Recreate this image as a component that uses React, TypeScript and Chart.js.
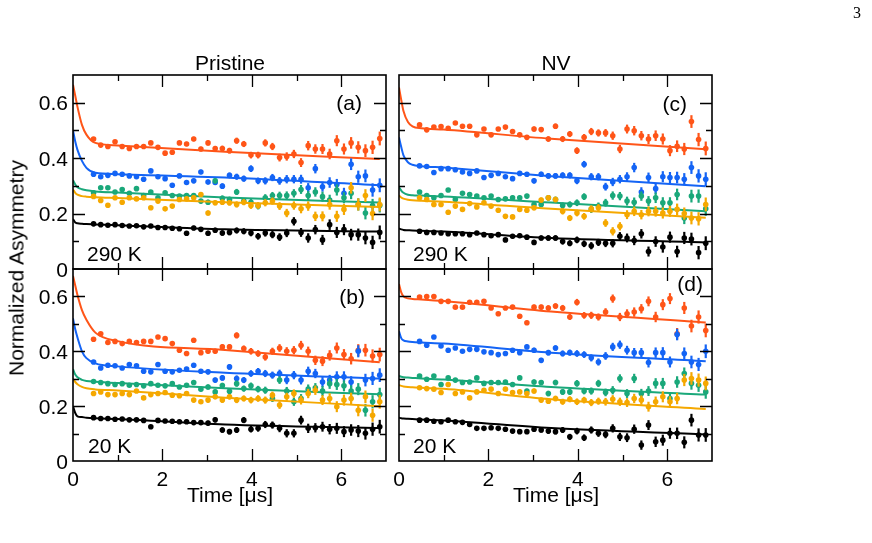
import React, { useEffect, useRef } from "react";
import { Chart, registerables } from "chart.js";
Chart.register(...registerables);

// ---------- data ----------
const TIMES = [0.46, 0.62, 0.78, 0.94, 1.1, 1.26, 1.42, 1.58, 1.74, 1.9, 2.06, 2.22, 2.38, 2.54, 2.7, 2.86, 3.02, 3.18, 3.34, 3.5, 3.66, 3.82, 3.98, 4.14, 4.3, 4.46, 4.62, 4.78, 4.94, 5.1, 5.26, 5.42, 5.58, 5.74, 5.9, 6.06, 6.22, 6.38, 6.54, 6.7, 6.86];
const ERRORS = [0.004, 0.004, 0.005, 0.005, 0.005, 0.005, 0.006, 0.006, 0.006, 0.006, 0.007, 0.007, 0.007, 0.008, 0.008, 0.008, 0.009, 0.009, 0.01, 0.01, 0.011, 0.011, 0.012, 0.012, 0.013, 0.013, 0.014, 0.015, 0.015, 0.016, 0.017, 0.017, 0.018, 0.019, 0.02, 0.02, 0.021, 0.022, 0.023, 0.024, 0.025];
const FIT_T = [0, 0.05, 0.1, 0.2, 0.3, 0.5, 1.0, 3.4, 6.86];

const X_TICK_LABELS = ["0", "2", "4", "6"];
const X_TICK_VALUES = [0, 2, 4, 6];
const Y_TICK_LABELS = ["0", "0.2", "0.4", "0.6"];
const Y_TICK_VALUES = [0, 0.2, 0.4, 0.6];
const X_TICKS_ALL = [1, 2, 3, 4, 5, 6];
const Y_TICKS_ALL = [0.1, 0.2, 0.3, 0.4, 0.5, 0.6];

// (a) Pristine 290 K
const A_RED = [0.469, 0.447, 0.442, 0.459, 0.442, 0.435, 0.442, 0.442, 0.455, 0.439, 0.418, 0.421, 0.455, 0.451, 0.469, 0.433, 0.455, 0.435, 0.435, 0.427, 0.463, 0.451, 0.411, 0.411, 0.455, 0.442, 0.402, 0.406, 0.415, 0.384, 0.445, 0.433, 0.433, 0.415, 0.463, 0.433, 0.455, 0.439, 0.427, 0.439, 0.471];
const A_BLUE = [0.342, 0.333, 0.338, 0.345, 0.342, 0.336, 0.333, 0.324, 0.354, 0.333, 0.326, 0.302, 0.336, 0.312, 0.318, 0.35, 0.314, 0.312, 0.299, 0.338, 0.333, 0.326, 0.362, 0.318, 0.318, 0.33, 0.318, 0.324, 0.324, 0.324, 0.293, 0.362, 0.297, 0.312, 0.305, 0.273, 0.378, 0.333, 0.336, 0.285, 0.302];
const A_GREEN = [0.275, 0.293, 0.293, 0.278, 0.287, 0.273, 0.29, 0.265, 0.278, 0.257, 0.275, 0.265, 0.263, 0.265, 0.265, 0.245, 0.241, 0.318, 0.255, 0.251, 0.278, 0.245, 0.241, 0.227, 0.257, 0.265, 0.265, 0.265, 0.273, 0.287, 0.265, 0.278, 0.261, 0.249, 0.285, 0.257, 0.273, 0.233, 0.202, 0.229, 0.229];
const A_YELLOW = [0.262, 0.247, 0.23, 0.257, 0.241, 0.257, 0.253, 0.257, 0.221, 0.245, 0.217, 0.227, 0.251, 0.253, 0.257, 0.269, 0.202, 0.239, 0.241, 0.239, 0.233, 0.241, 0.229, 0.229, 0.239, 0.245, 0.227, 0.202, 0.229, 0.217, 0.227, 0.19, 0.19, 0.233, 0.19, 0.215, 0.293, 0.233, 0.265, 0.2, 0.233];
const A_BLACK = [0.163, 0.16, 0.158, 0.16, 0.157, 0.155, 0.156, 0.152, 0.155, 0.15, 0.15, 0.147, 0.145, 0.129, 0.148, 0.143, 0.129, 0.14, 0.13, 0.132, 0.139, 0.136, 0.13, 0.118, 0.13, 0.124, 0.115, 0.13, 0.172, 0.132, 0.112, 0.142, 0.105, 0.16, 0.132, 0.142, 0.124, 0.124, 0.112, 0.096, 0.132];
const A_FIT_RED = [0.665, 0.625, 0.585, 0.52, 0.485, 0.455, 0.446, 0.423, 0.397];
const A_FIT_BLUE = [0.5, 0.46, 0.43, 0.39, 0.365, 0.347, 0.342, 0.33, 0.302];
const A_FIT_GREEN = [0.32, 0.305, 0.295, 0.288, 0.284, 0.28, 0.276, 0.258, 0.24];
const A_FIT_YELLOW = [0.287, 0.275, 0.268, 0.263, 0.261, 0.259, 0.256, 0.241, 0.224];
const A_FIT_BLACK = [0.18, 0.168, 0.165, 0.163, 0.162, 0.161, 0.158, 0.143, 0.135];

// (b) Pristine 20 K
const B_RED = [0.444, 0.464, 0.432, 0.436, 0.428, 0.436, 0.432, 0.436, 0.436, 0.452, 0.446, 0.428, 0.404, 0.392, 0.44, 0.395, 0.4, 0.4, 0.416, 0.416, 0.458, 0.41, 0.4, 0.392, 0.379, 0.4, 0.412, 0.4, 0.404, 0.422, 0.4, 0.367, 0.364, 0.385, 0.412, 0.388, 0.373, 0.404, 0.404, 0.383, 0.388];
const B_BLUE = [0.361, 0.339, 0.349, 0.347, 0.339, 0.352, 0.347, 0.327, 0.325, 0.352, 0.327, 0.325, 0.331, 0.335, 0.349, 0.327, 0.325, 0.295, 0.303, 0.343, 0.301, 0.295, 0.319, 0.327, 0.319, 0.313, 0.319, 0.295, 0.313, 0.295, 0.327, 0.319, 0.288, 0.295, 0.307, 0.307, 0.288, 0.4, 0.295, 0.301, 0.313];
const B_GREEN = [0.29, 0.286, 0.282, 0.279, 0.282, 0.276, 0.279, 0.274, 0.282, 0.276, 0.274, 0.282, 0.27, 0.276, 0.286, 0.262, 0.27, 0.252, 0.275, 0.254, 0.282, 0.264, 0.274, 0.262, 0.258, 0.228, 0.295, 0.255, 0.216, 0.228, 0.262, 0.267, 0.255, 0.282, 0.279, 0.274, 0.255, 0.262, 0.185, 0.216, 0.242];
const B_YELLOW = [0.246, 0.252, 0.242, 0.242, 0.246, 0.242, 0.255, 0.23, 0.242, 0.246, 0.25, 0.24, 0.238, 0.246, 0.222, 0.216, 0.222, 0.234, 0.222, 0.234, 0.222, 0.228, 0.222, 0.228, 0.222, 0.24, 0.204, 0.234, 0.246, 0.222, 0.246, 0.258, 0.222, 0.228, 0.198, 0.222, 0.228, 0.185, 0.234, 0.167, 0.216];
const B_BLACK = [0.158, 0.155, 0.155, 0.152, 0.153, 0.15, 0.15, 0.148, 0.125, 0.148, 0.146, 0.145, 0.143, 0.143, 0.14, 0.14, 0.138, 0.15, 0.113, 0.107, 0.113, 0.149, 0.116, 0.119, 0.133, 0.131, 0.119, 0.101, 0.101, 0.149, 0.119, 0.121, 0.125, 0.116, 0.119, 0.107, 0.113, 0.109, 0.101, 0.116, 0.125];
const B_FIT_RED = [0.675, 0.64, 0.605, 0.55, 0.515, 0.468, 0.437, 0.405, 0.36];
const B_FIT_BLUE = [0.52, 0.48, 0.45, 0.4, 0.375, 0.356, 0.345, 0.322, 0.301];
const B_FIT_GREEN = [0.335, 0.315, 0.305, 0.296, 0.292, 0.289, 0.284, 0.265, 0.243];
const B_FIT_YELLOW = [0.3, 0.288, 0.28, 0.27, 0.265, 0.261, 0.257, 0.231, 0.2];
const B_FIT_BLACK = [0.2, 0.175, 0.163, 0.16, 0.158, 0.156, 0.153, 0.133, 0.12];

// (c) NV 290 K
const C_RED = [0.52, 0.502, 0.512, 0.514, 0.508, 0.527, 0.515, 0.515, 0.484, 0.505, 0.484, 0.505, 0.512, 0.496, 0.484, 0.475, 0.505, 0.503, 0.469, 0.515, 0.469, 0.487, 0.427, 0.475, 0.496, 0.491, 0.491, 0.481, 0.433, 0.505, 0.499, 0.481, 0.469, 0.481, 0.469, 0.427, 0.443, 0.433, 0.532, 0.467, 0.435];
const C_BLUE = [0.372, 0.37, 0.348, 0.362, 0.362, 0.358, 0.35, 0.345, 0.354, 0.33, 0.338, 0.345, 0.333, 0.326, 0.345, 0.342, 0.318, 0.342, 0.336, 0.336, 0.338, 0.338, 0.318, 0.378, 0.333, 0.333, 0.297, 0.314, 0.324, 0.333, 0.366, 0.278, 0.33, 0.29, 0.333, 0.33, 0.33, 0.324, 0.366, 0.336, 0.324];
const C_GREEN = [0.278, 0.265, 0.257, 0.265, 0.285, 0.251, 0.273, 0.269, 0.263, 0.257, 0.263, 0.251, 0.253, 0.257, 0.257, 0.263, 0.233, 0.233, 0.257, 0.251, 0.229, 0.233, 0.239, 0.261, 0.215, 0.227, 0.239, 0.265, 0.263, 0.245, 0.241, 0.263, 0.245, 0.257, 0.239, 0.239, 0.269, 0.184, 0.263, 0.263, 0.217];
const C_YELLOW = [0.257, 0.251, 0.233, 0.233, 0.205, 0.227, 0.215, 0.236, 0.224, 0.239, 0.227, 0.212, 0.19, 0.188, 0.215, 0.212, 0.221, 0.249, 0.257, 0.251, 0.208, 0.184, 0.202, 0.19, 0.217, 0.221, 0.166, 0.136, 0.154, 0.196, 0.208, 0.196, 0.208, 0.208, 0.202, 0.208, 0.215, 0.2, 0.184, 0.181, 0.233];
const C_BLACK = [0.136, 0.132, 0.132, 0.13, 0.127, 0.127, 0.127, 0.124, 0.13, 0.124, 0.12, 0.124, 0.105, 0.118, 0.12, 0.115, 0.096, 0.112, 0.112, 0.112, 0.099, 0.093, 0.105, 0.091, 0.084, 0.096, 0.093, 0.093, 0.118, 0.112, 0.103, 0.127, 0.063, 0.099, 0.079, 0.115, 0.063, 0.112, 0.108, 0.059, 0.093];
const C_FIT_RED = [0.655, 0.61, 0.57, 0.53, 0.515, 0.508, 0.503, 0.47, 0.432];
const C_FIT_BLUE = [0.475, 0.44, 0.41, 0.385, 0.376, 0.371, 0.366, 0.335, 0.299];
const C_FIT_GREEN = [0.295, 0.283, 0.275, 0.268, 0.266, 0.265, 0.262, 0.24, 0.208];
const C_FIT_YELLOW = [0.265, 0.258, 0.254, 0.25, 0.248, 0.246, 0.243, 0.217, 0.185];
const C_FIT_BLACK = [0.146, 0.143, 0.141, 0.14, 0.139, 0.138, 0.135, 0.112, 0.096];

// (d) NV 20 K
const D_RED = [0.598, 0.6, 0.6, 0.582, 0.582, 0.561, 0.561, 0.579, 0.579, 0.582, 0.558, 0.537, 0.558, 0.561, 0.528, 0.504, 0.561, 0.561, 0.558, 0.565, 0.558, 0.525, 0.579, 0.531, 0.531, 0.525, 0.543, 0.592, 0.525, 0.537, 0.543, 0.555, 0.582, 0.525, 0.57, 0.592, 0.464, 0.558, 0.492, 0.525, 0.476];
const D_BLUE = [0.436, 0.422, 0.452, 0.419, 0.404, 0.412, 0.4, 0.407, 0.407, 0.398, 0.395, 0.388, 0.392, 0.404, 0.395, 0.416, 0.404, 0.367, 0.395, 0.412, 0.392, 0.395, 0.392, 0.388, 0.376, 0.361, 0.383, 0.416, 0.424, 0.404, 0.395, 0.395, 0.359, 0.395, 0.395, 0.361, 0.461, 0.392, 0.361, 0.352, 0.4];
const D_GREEN = [0.31, 0.298, 0.31, 0.279, 0.303, 0.295, 0.286, 0.288, 0.303, 0.283, 0.286, 0.286, 0.288, 0.279, 0.303, 0.255, 0.288, 0.286, 0.246, 0.286, 0.252, 0.252, 0.283, 0.255, 0.255, 0.283, 0.25, 0.258, 0.301, 0.246, 0.301, 0.246, 0.255, 0.283, 0.283, 0.228, 0.288, 0.319, 0.283, 0.276, 0.252];
const D_YELLOW = [0.267, 0.264, 0.262, 0.25, 0.279, 0.246, 0.252, 0.23, 0.252, 0.258, 0.262, 0.246, 0.262, 0.25, 0.252, 0.246, 0.255, 0.222, 0.218, 0.228, 0.216, 0.225, 0.216, 0.222, 0.213, 0.218, 0.216, 0.225, 0.216, 0.213, 0.228, 0.222, 0.198, 0.216, 0.234, 0.216, 0.228, 0.295, 0.301, 0.295, 0.283];
const D_BLACK = [0.149, 0.149, 0.145, 0.143, 0.149, 0.143, 0.141, 0.133, 0.119, 0.119, 0.121, 0.119, 0.116, 0.109, 0.107, 0.107, 0.116, 0.113, 0.109, 0.107, 0.113, 0.088, 0.109, 0.085, 0.113, 0.101, 0.097, 0.119, 0.088, 0.085, 0.116, 0.058, 0.131, 0.07, 0.076, 0.101, 0.101, 0.068, 0.149, 0.095, 0.095];
const D_FIT_RED = [0.645, 0.615, 0.6, 0.593, 0.591, 0.589, 0.583, 0.545, 0.505];
const D_FIT_BLUE = [0.473, 0.448, 0.44, 0.436, 0.434, 0.432, 0.428, 0.395, 0.364];
const D_FIT_GREEN = [0.31, 0.307, 0.305, 0.304, 0.303, 0.301, 0.297, 0.27, 0.242];
const D_FIT_YELLOW = [0.277, 0.274, 0.272, 0.27, 0.269, 0.267, 0.263, 0.225, 0.19];
const D_FIT_BLACK = [0.158, 0.156, 0.155, 0.154, 0.153, 0.151, 0.148, 0.12, 0.097];

// ---------- styles ----------
const RED = "#FF5518";
const BLUE = "#1464F5";
const GREEN = "#1AA87A";
const YELLOW = "#F5A800";
const BLACK = "#000000";
const FONT = '"Liberation Sans", Arial, Helvetica, sans-serif';

type Series = { color: string; pts: number[]; fit: number[] };
type PanelCfg = {
  left: number; top: number; right: number; bottom: number;
  yLabels: boolean; xLabels: boolean; series: Series[];
};

const PANELS: PanelCfg[] = [
  {
    left: 73, top: 75, right: 386, bottom: 269, yLabels: true, xLabels: false,
    series: [
      { color: BLACK, pts: A_BLACK, fit: A_FIT_BLACK },
      { color: YELLOW, pts: A_YELLOW, fit: A_FIT_YELLOW },
      { color: GREEN, pts: A_GREEN, fit: A_FIT_GREEN },
      { color: BLUE, pts: A_BLUE, fit: A_FIT_BLUE },
      { color: RED, pts: A_RED, fit: A_FIT_RED },
    ],
  },
  {
    left: 73, top: 269, right: 386, bottom: 461, yLabels: true, xLabels: true,
    series: [
      { color: BLACK, pts: B_BLACK, fit: B_FIT_BLACK },
      { color: YELLOW, pts: B_YELLOW, fit: B_FIT_YELLOW },
      { color: GREEN, pts: B_GREEN, fit: B_FIT_GREEN },
      { color: BLUE, pts: B_BLUE, fit: B_FIT_BLUE },
      { color: RED, pts: B_RED, fit: B_FIT_RED },
    ],
  },
  {
    left: 399, top: 75, right: 712, bottom: 269, yLabels: false, xLabels: false,
    series: [
      { color: BLACK, pts: C_BLACK, fit: C_FIT_BLACK },
      { color: YELLOW, pts: C_YELLOW, fit: C_FIT_YELLOW },
      { color: GREEN, pts: C_GREEN, fit: C_FIT_GREEN },
      { color: BLUE, pts: C_BLUE, fit: C_FIT_BLUE },
      { color: RED, pts: C_RED, fit: C_FIT_RED },
    ],
  },
  {
    left: 399, top: 269, right: 712, bottom: 461, yLabels: false, xLabels: true,
    series: [
      { color: BLACK, pts: D_BLACK, fit: D_FIT_BLACK },
      { color: YELLOW, pts: D_YELLOW, fit: D_FIT_YELLOW },
      { color: GREEN, pts: D_GREEN, fit: D_FIT_GREEN },
      { color: BLUE, pts: D_BLUE, fit: D_FIT_BLUE },
      { color: RED, pts: D_RED, fit: D_FIT_RED },
    ],
  },
];

const framePlugin = {
  id: "frame",
  afterDatasetDraw(chart: any, args: any) {
    const ds = chart.data.datasets[args.index];
    if (!ds.errors) return;
    const ctx = chart.ctx;
    const xs = chart.scales.x;
    const ys = chart.scales.y;
    ctx.save();
    ctx.strokeStyle = ds.backgroundColor;
    ctx.lineWidth = 2.2;
    ds.data.forEach((p: any, i: number) => {
      const e = ds.errors[i];
      const x = xs.getPixelForValue(p.x);
      ctx.beginPath();
      ctx.moveTo(x, ys.getPixelForValue(p.y - e));
      ctx.lineTo(x, ys.getPixelForValue(p.y + e));
      ctx.stroke();
    });
    ctx.restore();
  },
  afterDraw(chart: any, _args: any, opts: any) {
    const { ctx, chartArea: a } = chart;
    const xs = chart.scales.x;
    const ys = chart.scales.y;
    ctx.save();
    ctx.strokeStyle = "#000";
    ctx.lineWidth = 1.3;
    ctx.beginPath();
    X_TICKS_ALL.forEach((v) => {
      const len = X_TICK_VALUES.includes(v) ? 12 : 6;
      const x = Math.round(xs.getPixelForValue(v)) + 0.5;
      ctx.moveTo(x, a.bottom);
      ctx.lineTo(x, a.bottom - len);
      ctx.moveTo(x, a.top);
      ctx.lineTo(x, a.top + len);
    });
    Y_TICKS_ALL.forEach((v) => {
      const len = Y_TICK_VALUES.some((t) => Math.abs(t - v) < 1e-6) ? 12 : 6;
      const y = Math.round(ys.getPixelForValue(v)) + 0.5;
      ctx.moveTo(a.left, y);
      ctx.lineTo(a.left + len, y);
      ctx.moveTo(a.right, y);
      ctx.lineTo(a.right - len, y);
    });
    ctx.stroke();
    ctx.lineWidth = 1.6;
    ctx.strokeRect(a.left, a.top, a.right - a.left, a.bottom - a.top);

    ctx.fillStyle = "#000";
    ctx.font = `21px ${FONT}`;
    if (opts && opts.yLabels) {
      ctx.textAlign = "right";
      ctx.textBaseline = "alphabetic";
      Y_TICK_VALUES.forEach((v, i) => {
        ctx.fillText(Y_TICK_LABELS[i], a.left - 5, ys.getPixelForValue(v) + 7.5);
      });
    }
    if (opts && opts.xLabels) {
      ctx.textAlign = "center";
      ctx.textBaseline = "alphabetic";
      X_TICK_VALUES.forEach((v, i) => {
        ctx.fillText(X_TICK_LABELS[i], xs.getPixelForValue(v), a.bottom + 25);
      });
    }
    ctx.restore();
  },
};

function Panel({ cfg }: { cfg: PanelCfg }) {
  const ref = useRef<HTMLCanvasElement>(null);
  useEffect(() => {
    if (!ref.current) return;
    const datasets: any[] = [];
    cfg.series.forEach((s) => {
      datasets.push({
        type: "scatter",
        data: TIMES.map((t, i) => ({ x: t, y: s.pts[i] })),
        backgroundColor: s.color,
        borderColor: s.color,
        borderWidth: 0,
        pointRadius: 2.8,
        showLine: false,
        errors: ERRORS,
      });
      datasets.push({
        type: "line",
        data: FIT_T.map((t, i) => ({ x: t, y: s.fit[i] })),
        borderColor: s.color,
        backgroundColor: s.color,
        borderWidth: 2,
        pointRadius: 0,
        fill: false,
        cubicInterpolationMode: "monotone",
      });
    });
    const chart = new Chart(ref.current, {
      type: "scatter",
      data: { datasets },
      options: {
        responsive: false,
        animation: false,
        devicePixelRatio: 1,
        events: [],
        layout: {
          padding: { left: cfg.left, top: cfg.top, right: 872 - cfg.right, bottom: 543 - cfg.bottom },
        },
        scales: {
          x: { type: "linear", min: 0, max: 7, display: false },
          y: { type: "linear", min: 0, max: 0.7, display: false },
        },
        plugins: {
          legend: { display: false },
          tooltip: { enabled: false },
          frame: { yLabels: cfg.yLabels, xLabels: cfg.xLabels },
        } as any,
      },
      plugins: [framePlugin],
    } as any);
    return () => chart.destroy();
  }, [cfg]);
  return (
    <canvas
      ref={ref}
      width={872}
      height={543}
      style={{ position: "absolute", left: 0, top: 0, width: 872, height: 543 }}
    />
  );
}

const txt: React.CSSProperties = {
  position: "absolute",
  fontFamily: FONT,
  fontSize: 21,
  lineHeight: "21px",
  whiteSpace: "nowrap",
  color: "#000",
};

export default function App() {
  return (
    <div
      style={{
        position: "fixed",
        left: 0,
        top: 0,
        width: 872,
        height: 543,
        background: "#fff",
        overflow: "hidden",
      }}
    >
      {PANELS.map((p, i) => (
        <Panel key={i} cfg={p} />
      ))}
      <div style={{ ...txt, left: 230, top: 52, transform: "translateX(-50%)" }}>Pristine</div>
      <div style={{ ...txt, left: 556, top: 52, transform: "translateX(-50%)" }}>NV</div>
      <div style={{ ...txt, left: 230, top: 484, transform: "translateX(-50%)" }}>Time [μs]</div>
      <div style={{ ...txt, left: 556, top: 484, transform: "translateX(-50%)" }}>Time [μs]</div>
      <div
        style={{
          ...txt,
          left: 16,
          top: 268,
          transform: "translate(-50%, -50%) rotate(-90deg)",
        }}
      >
        Normalized Asymmetry
      </div>
      <div style={{ ...txt, left: 362, top: 92, transform: "translateX(-100%)" }}>(a)</div>
      <div style={{ ...txt, left: 365, top: 286, transform: "translateX(-100%)" }}>(b)</div>
      <div style={{ ...txt, left: 687, top: 93, transform: "translateX(-100%)" }}>(c)</div>
      <div style={{ ...txt, left: 703, top: 273, transform: "translateX(-100%)" }}>(d)</div>
      <div style={{ ...txt, left: 87, top: 243 }}>290 K</div>
      <div style={{ ...txt, left: 413, top: 243 }}>290 K</div>
      <div style={{ ...txt, left: 88, top: 435 }}>20 K</div>
      <div style={{ ...txt, left: 413, top: 435 }}>20 K</div>
      <div
        style={{
          position: "absolute",
          left: 853,
          top: 5,
          fontFamily: '"Liberation Serif", "DejaVu Serif", serif',
          fontSize: 16,
          lineHeight: "16px",
        }}
      >
        3
      </div>
    </div>
  );
}
